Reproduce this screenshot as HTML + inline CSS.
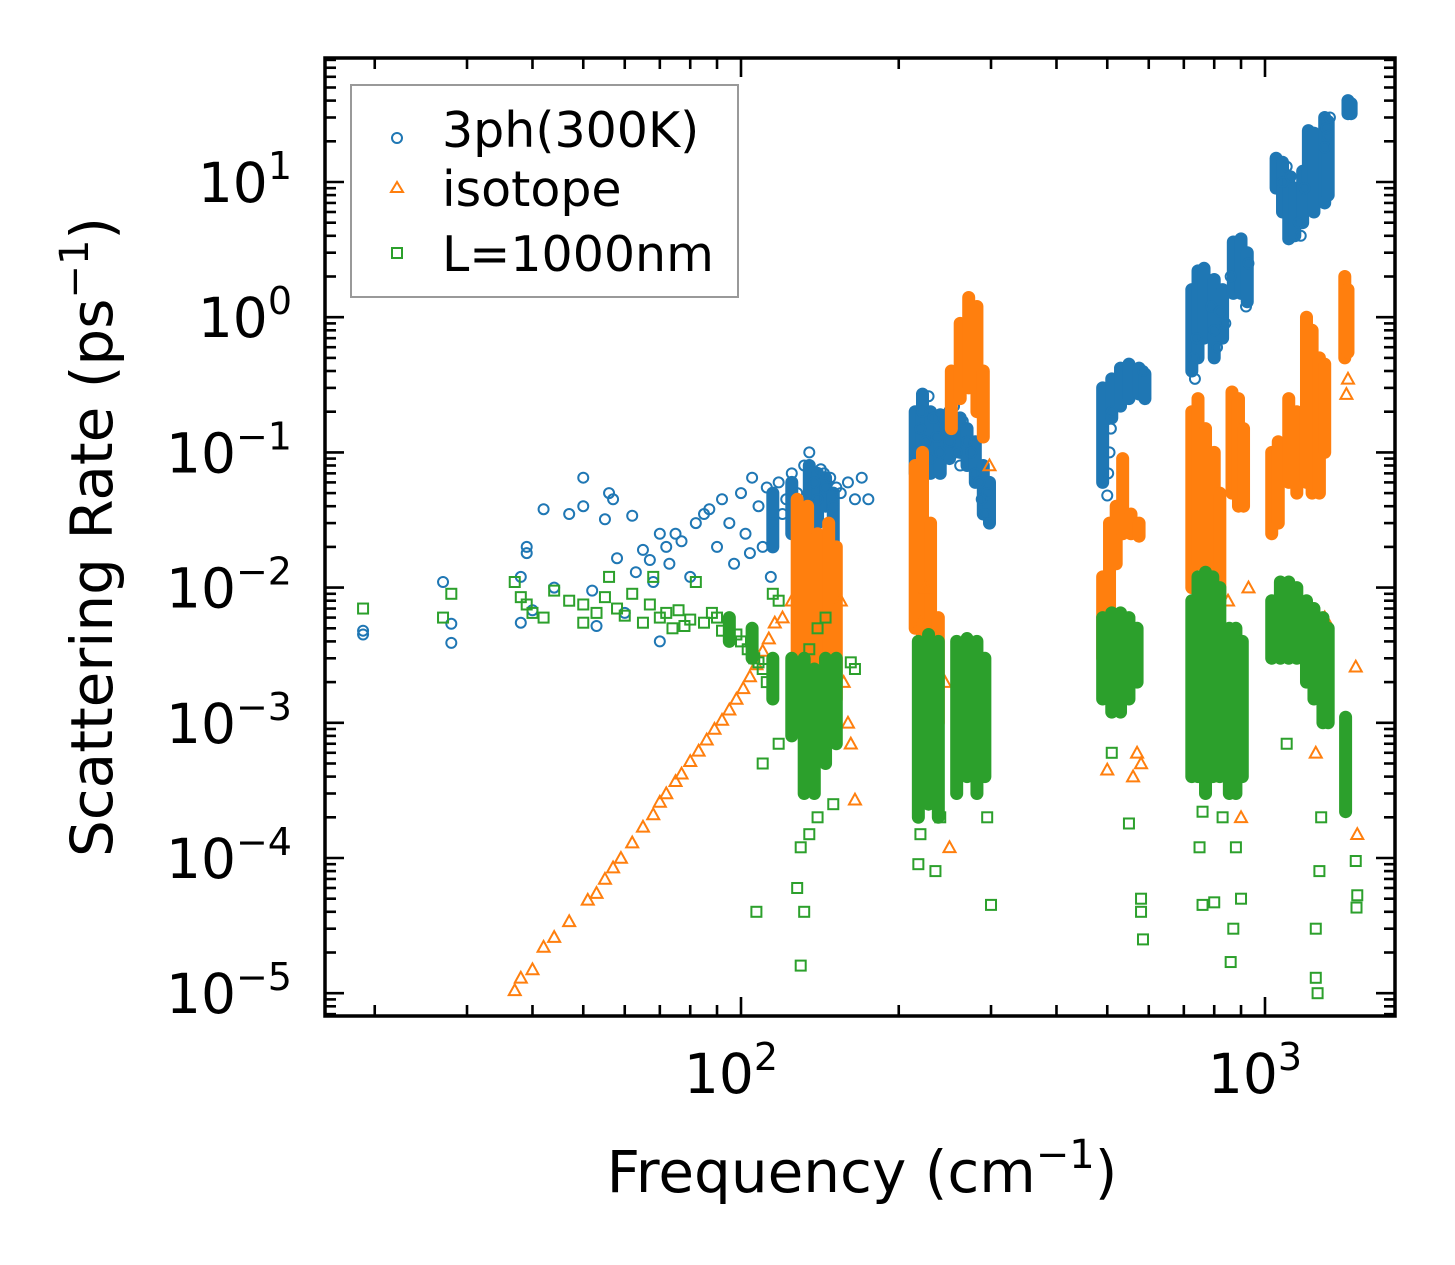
<!DOCTYPE html>
<html><head><meta charset="utf-8"><style>
body{margin:0;background:#fff;}
svg text{font-family:"DejaVu Sans","Liberation Sans",sans-serif;fill:#000;}
</style></head><body>
<svg id="chart" width="1455" height="1265" viewBox="0 0 1455 1265" xmlns="http://www.w3.org/2000/svg" style="position:absolute;left:0;top:0">
<rect width="1455" height="1265" fill="#fff"/>
<g id="marks"></g>
<g id="axes"></g>
</svg>
<script>
// ---- scattered points (frequency cm^-1, rate ps^-1) ----
const phFreq=[19,19,27,28,28,38,39,39,38,40,42,44,47,50,50,52,53,55,56,57,58,60,62,63,65,67,68,70,70,72,73,75,77,80,82,85,87,90,92,95,97,100,102,105,108,110,112,115,118,120,122,125,128,130,132,135,138,140,142,145,148,150,155,160,165,170,175,104,114,126,134,144,152,
215,218,220,222,225,228,230,233,236,240,245,250,255,258,262,265,270,275,280,285,288,292,295,298,
500,502,505,508,510,585,
730,735,740,790,800,810,820,840,860,930,920,
1080,1100,1120,1160,1170,1190,1300,1310,1320,1330];
const phRate=[0.0045,0.0048,0.011,0.0054,0.0039,0.012,0.018,0.02,0.0055,0.0068,0.038,0.01,0.035,0.065,0.04,0.0095,0.0052,0.032,0.05,0.045,0.0165,0.0065,0.034,0.013,0.019,0.016,0.011,0.025,0.004,0.02,0.015,0.025,0.022,0.012,0.03,0.035,0.038,0.02,0.045,0.03,0.015,0.05,0.025,0.065,0.04,0.02,0.055,0.03,0.06,0.035,0.045,0.07,0.05,0.035,0.08,0.1,0.06,0.045,0.075,0.055,0.065,0.04,0.05,0.06,0.045,0.065,0.045,0.018,0.012,0.028,0.042,0.07,0.055,
0.1,0.07,0.15,0.2,0.12,0.26,0.09,0.18,0.13,0.1,0.16,0.12,0.22,0.1,0.08,0.17,0.12,0.1,0.07,0.06,0.045,0.035,0.05,0.03,
0.048,0.07,0.1,0.15,0.2,0.4,
0.5,0.35,0.7,1.2,0.8,0.6,1.1,0.9,2.0,2.5,1.2,
10,13,11,5,4,9,18,25,22,30];
const isoFreq=[37,38,40,42,44,47,51,53,55,57,59,62,65,68,70,72,75,77,80,83,86,89,92,95,98,101,104,107,110,113,116,
120,125,155,157,160,162,165,130,132,135,
245,250,298,220,225,
500,580,570,560,540,
750,820,900,850,930,
1490,1500,1200,1250,1300,1440,1430];
const isoRate=[1.05e-5,1.3e-5,1.5e-5,2.2e-5,2.6e-5,3.4e-5,4.9e-5,5.5e-5,7e-5,8.5e-5,1e-4,1.3e-4,1.7e-4,2.1e-4,2.6e-4,3e-4,3.7e-4,4.2e-4,5.2e-4,6.2e-4,7.5e-4,9e-4,1.05e-3,1.25e-3,1.5e-3,1.8e-3,2.2e-3,2.7e-3,3.4e-3,4.2e-3,5.5e-3,
0.006,0.008,0.008,0.002,0.001,0.0007,0.00027,0.0025,0.001,0.0007,
0.002,0.00012,0.08,0.0055,0.01,
0.00045,0.0005,0.0006,0.0004,0.006,
0.003,0.0004,0.0002,0.008,0.01,
0.0026,0.00015,0.003,0.0006,0.006,0.35,0.27];
const grFreq=[19,27,28,37,38,39,40,42,44,47,50,50,53,55,56,58,60,62,65,67,68,70,72,74,76,78,80,82,85,88,90,92,98,100,103,106,108,110,112,115,118,107,130,132,128,130,135,140,150,135,140,145,110,118,162,165,
218,220,235,240,300,295,
580,585,580,550,510,
760,800,860,870,900,750,830,760,880,
1100,1260,1250,1250,1270,1280,1495,1500,1490];
const grRate=[0.007,0.006,0.009,0.011,0.0085,0.0075,0.0065,0.006,0.0095,0.008,0.0075,0.0055,0.0065,0.0085,0.012,0.007,0.0062,0.009,0.0055,0.0075,0.012,0.006,0.0065,0.005,0.0068,0.0052,0.0058,0.011,0.0055,0.0065,0.006,0.0048,0.0045,0.004,0.0035,0.003,0.0028,0.0025,0.002,0.009,0.008,4e-5,1.6e-5,4e-5,6e-5,0.00012,0.00015,0.0002,0.00025,0.0035,0.005,0.006,0.0005,0.0007,0.0028,0.0025,
9e-5,0.00015,8e-5,0.0002,4.5e-5,0.0002,
5e-5,2.5e-5,4e-5,0.00018,0.0006,
4.5e-5,4.7e-5,1.7e-5,3e-5,5e-5,0.00012,0.0002,0.00022,0.00012,
0.0007,1e-5,1.3e-5,3e-5,8e-5,0.0002,4.3e-5,5.3e-5,9.5e-5];

// ---- dense vertical streaks: frequency, low rate, high rate ----
const phStreakFreq=[115,125,135,140,145,150,215,222,230,240,250,262,270,280,290,298,490,510,530,550,575,590,725,745,765,800,830,870,900,925,1050,1080,1110,1140,1180,1210,1240,1300,1320,1440,1460];
const phStreakLo=[0.02,0.025,0.035,0.03,0.04,0.02,0.07,0.06,0.07,0.07,0.09,0.1,0.08,0.06,0.035,0.03,0.06,0.18,0.22,0.25,0.27,0.25,0.4,0.5,0.7,0.5,0.7,1.5,1.5,1.3,9,6,3.8,4,5,8,6,7,8,32,32];
const phStreakHi=[0.05,0.06,0.08,0.07,0.065,0.05,0.2,0.27,0.2,0.19,0.2,0.18,0.15,0.12,0.08,0.06,0.3,0.35,0.42,0.45,0.42,0.38,1.6,2.2,2.3,1.9,1.6,3.6,3.8,3.0,15,14,11,9,12,24,23,30,28,40,38];
const isoStreakFreq=[128,134,140,147,152,215,222,230,238,252,262,272,282,290,490,505,520,535,555,575,725,745,770,800,820,865,890,910,1030,1060,1110,1150,1200,1230,1270,1300,1420,1440];
const isoStreakLo=[0.0015,0.0025,0.003,0.003,0.0015,0.005,0.003,0.002,0.001,0.15,0.25,0.3,0.2,0.13,0.003,0.006,0.015,0.025,0.025,0.024,0.01,0.015,0.008,0.01,0.008,0.05,0.04,0.04,0.025,0.03,0.06,0.05,0.06,0.05,0.05,0.1,0.5,0.55];
const isoStreakHi=[0.045,0.04,0.025,0.03,0.02,0.08,0.1,0.03,0.006,0.4,0.9,1.4,1.2,0.4,0.012,0.03,0.04,0.09,0.035,0.03,0.2,0.25,0.15,0.1,0.05,0.28,0.25,0.15,0.1,0.12,0.25,0.2,1.0,0.8,0.5,0.45,2.0,1.6];
const grStreakFreq=[95,105,115,125,132,138,145,152,218,228,238,258,270,282,292,490,510,530,550,570,725,745,770,795,820,855,880,905,1030,1070,1110,1150,1200,1240,1290,1320,1425];
const grStreakLo=[0.004,0.003,0.0015,0.0008,0.0003,0.0003,0.0005,0.0007,0.0002,0.00025,0.0002,0.0003,0.0004,0.0003,0.0004,0.0015,0.0012,0.0012,0.0015,0.002,0.0004,0.0004,0.0003,0.0004,0.0004,0.0003,0.0003,0.0004,0.003,0.003,0.003,0.003,0.002,0.0015,0.001,0.001,0.00022];
const grStreakHi=[0.006,0.005,0.003,0.003,0.003,0.0025,0.003,0.003,0.004,0.0045,0.004,0.004,0.0042,0.004,0.003,0.006,0.0065,0.0065,0.006,0.005,0.008,0.012,0.013,0.012,0.01,0.005,0.005,0.004,0.008,0.011,0.011,0.01,0.008,0.007,0.006,0.005,0.0011];

const xTickVals=[100,1000];
const xTickLabels=["2","3"];
const yTickVals=[10,1,0.1,0.01,0.001,0.0001,0.00001];
const yTickLabels=["1","0","\u22121","\u22122","\u22123","\u22124","\u22125"];

const L=325,R=1395,T=58,B=1016;
const X100=741,XDEC=524;
const Y10=182,YDEC=135.2;
const xs=v=>X100+(Math.log10(v)-2)*XDEC;
const ys=v=>Y10-(Math.log10(v)-1)*YDEC;
const NS="http://www.w3.org/2000/svg";
function mk(tag,attrs,parent){const e=document.createElementNS(NS,tag);for(const k in attrs)e.setAttribute(k,attrs[k]);parent.appendChild(e);return e;}
const marks=document.getElementById('marks');
const axes=document.getElementById('axes');
const C1='#1f77b4',C2='#ff7f0e',C3='#2ca02c';

function circ(g,x,y){return mk('circle',{cx:x,cy:y,r:5,fill:'none',stroke:C1,'stroke-width':2},g);}
function tri(g,x,y){const s=6;return mk('polygon',{points:`${x},${y-s} ${x-s},${y+s*0.8} ${x+s},${y+s*0.8}`,fill:'none',stroke:C2,'stroke-width':2},g);}
function sq(g,x,y){const s=5;return mk('rect',{x:x-s,y:y-s,width:2*s,height:2*s,fill:'none',stroke:C3,'stroke-width':2},g);}
function streak(g,f,lo,hi,col){return mk('line',{x1:xs(f),y1:ys(lo),x2:xs(f),y2:ys(hi),stroke:col,'stroke-width':13,'stroke-linecap':'round'},g);}

function series(name,fr,rt,sf,slo,shi,fn,col){
  const g=mk('g',{},marks);
  
  
  sf.forEach((f,i)=>{const e=streak(g,f,slo[i],shi[i],col);
    
    });
  fr.forEach((f,i)=>{const e=fn(g,xs(f),ys(rt[i]));
    
    });
}
series('series-3ph',phFreq,phRate,phStreakFreq,phStreakLo,phStreakHi,circ,C1);
series('series-isotope',isoFreq,isoRate,isoStreakFreq,isoStreakLo,isoStreakHi,tri,C2);
series('series-boundary',grFreq,grRate,grStreakFreq,grStreakLo,grStreakHi,sq,C3);

const frame=mk('rect',{x:L,y:T,width:R-L,height:B-T,fill:'none',stroke:'#000','stroke-width':3.5},axes);


for(let d=1;d<=3;d++){for(let m=1;m<=9;m++){const v=m*Math.pow(10,d);const x=xs(v);if(x<L||x>R)continue;
const len=m===1?19:11;
mk('line',{x1:x,y1:B,x2:x,y2:B-len,stroke:'#000','stroke-width':2.6},axes);
mk('line',{x1:x,y1:T,x2:x,y2:T+len,stroke:'#000','stroke-width':2.6},axes);}}
for(let d=-6;d<=1;d++){for(let m=1;m<=9;m++){const v=m*Math.pow(10,d);const y=ys(v);if(y<T||y>B)continue;
const len=m===1?19:11;
mk('line',{x1:L,y1:y,x2:L+len,y2:y,stroke:'#000','stroke-width':2.6},axes);
mk('line',{x1:R,y1:y,x2:R-len,y2:y,stroke:'#000','stroke-width':2.6},axes);}}
xTickVals.forEach((v,i)=>{const x=xs(v);
const t=mk('text',{x:x-10,y:1093,'font-size':55,'text-anchor':'middle'},axes);


t.textContent='10';
const s=mk('tspan',{dy:-23,'font-size':38},t);s.textContent=xTickLabels[i];});
yTickVals.forEach((v,i)=>{const y=ys(v);
const t=mk('text',{x:292,y:y+20,'font-size':55,'text-anchor':'end'},axes);


const a=mk('tspan',{},t);a.textContent='10';
const s=mk('tspan',{dy:-23,'font-size':38},t);s.textContent=yTickLabels[i];});
</script>
<svg style="position:absolute;left:0;top:0" width="1455" height="1265" xmlns="http://www.w3.org/2000/svg">
<text x="862" y="1192" font-size="58" text-anchor="middle" font-family="DejaVu Sans, Liberation Sans, sans-serif">Frequency (cm<tspan dy="-24" font-size="40">−1</tspan><tspan dy="24">)</tspan></text>
<text transform="translate(112,537) rotate(-90)" font-size="58" text-anchor="middle" font-family="DejaVu Sans, Liberation Sans, sans-serif">Scattering Rate (ps<tspan dy="-24" font-size="40">−1</tspan><tspan dy="24">)</tspan></text>
<g>
<rect x="351" y="85" width="387" height="212" fill="#fff" fill-opacity="0.8" stroke="#999" stroke-width="2"/>
<circle cx="397" cy="138" r="5" fill="none" stroke="#1f77b4" stroke-width="2"/>
<polygon points="397,182 391,192 403,192" fill="none" stroke="#ff7f0e" stroke-width="2"/>
<rect x="392" y="248" width="10" height="10" fill="none" stroke="#2ca02c" stroke-width="2"/>
<text x="442" y="147" font-size="49" font-family="DejaVu Sans, Liberation Sans, sans-serif">3ph(300K)</text>
<text x="442" y="206" font-size="49" font-family="DejaVu Sans, Liberation Sans, sans-serif">isotope</text>
<text x="442" y="271" font-size="49" font-family="DejaVu Sans, Liberation Sans, sans-serif">L=1000nm</text>
</g>
</svg>
</body></html>
